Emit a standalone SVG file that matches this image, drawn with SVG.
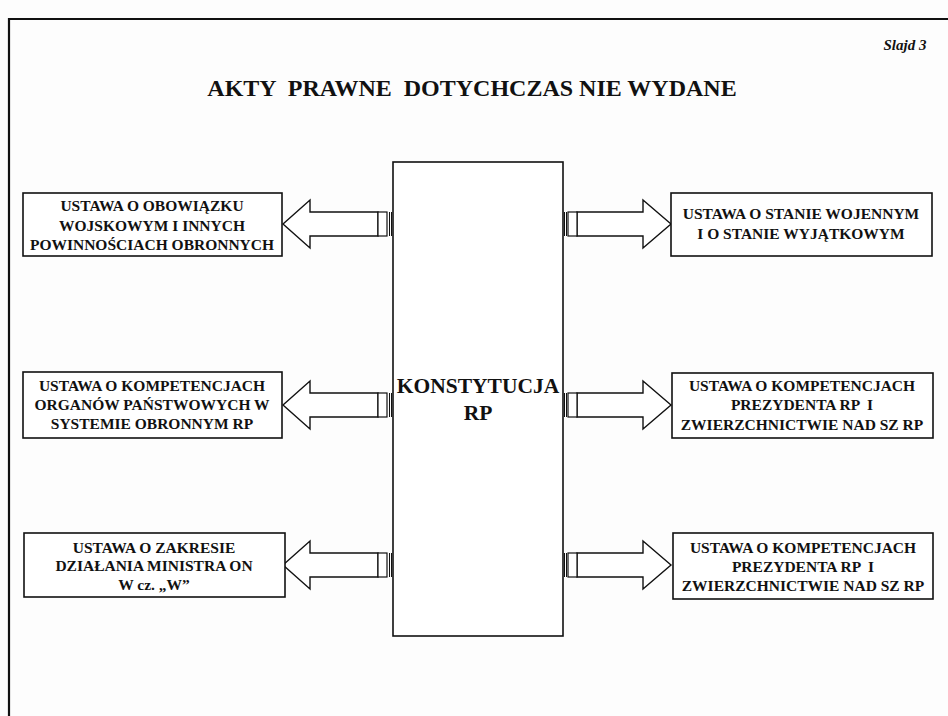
<svg xmlns="http://www.w3.org/2000/svg" width="948" height="716" viewBox="0 0 948 716">
<style>
.box{fill:#fff;stroke:#111;stroke-width:1.6}
.t{font-family:"Liberation Serif","Times New Roman",serif;font-weight:bold;fill:#111;text-anchor:middle}
.lbl{font-size:15.5px}
.arr{fill:#fff;stroke:#111;stroke-width:1.4;stroke-linejoin:miter}
.stripe{fill:#fff;stroke:#111;stroke-width:1.2}
</style>
<rect x="0" y="0" width="948" height="716" fill="#fdfdfd"/>
<g id="frame">
<path d="M9,716 V19 H948" fill="none" stroke="#111" stroke-width="2.2"/>
</g>
<text x="905" y="50" class="t" style="font-size:15px;font-style:italic">Slajd 3</text>
<text x="472" y="96" class="t" style="font-size:24px;white-space:pre">AKTY  PRAWNE  DOTYCHCZAS NIE WYDANE</text>

<defs>
<g id="arrowL">
<polygon class="arr" points="283,0 310,-24 310,-12 378,-12 378,12 310,12 310,24"/>
<rect class="stripe" x="378" y="-12" width="9" height="24"/>
<line x1="389.5" y1="-12" x2="389.5" y2="12" stroke="#111" stroke-width="1"/>
<line x1="391.5" y1="-12" x2="391.5" y2="12" stroke="#111" stroke-width="1"/>
</g>
<g id="arrowR">
<polygon class="arr" points="671,0 643,-24 643,-12 577,-12 577,12 643,12 643,24"/>
<rect class="stripe" x="568" y="-12" width="9" height="24"/>
<line x1="564.5" y1="-12" x2="564.5" y2="12" stroke="#111" stroke-width="1"/>
<line x1="566.5" y1="-12" x2="566.5" y2="12" stroke="#111" stroke-width="1"/>
</g>
</defs>

<g id="connectors">
<use href="#arrowL" y="224"/>
<use href="#arrowL" y="405"/>
<use href="#arrowL" y="565"/>
<use href="#arrowR" y="224"/>
<use href="#arrowR" y="405"/>
<use href="#arrowR" y="565"/>
</g>

<g id="konstytucja">
<rect class="box" x="393" y="162" width="170" height="474"/>
<text x="478" y="393" class="t" style="font-size:21.5px">KONSTYTUCJA</text>
<text x="478" y="420" class="t" style="font-size:21.5px">RP</text>
</g>

<g id="left1">
<rect class="box" x="23" y="193" width="259" height="63"/>
<text class="t lbl" x="152" y="211">USTAWA O OBOWIĄZKU</text>
<text class="t lbl" x="152" y="231">WOJSKOWYM I INNYCH</text>
<text class="t lbl" x="152" y="250">POWINNOŚCIACH OBRONNYCH</text>
</g>

<g id="left2">
<rect class="box" x="23" y="372" width="259" height="66"/>
<text class="t lbl" x="152" y="391">USTAWA O KOMPETENCJACH</text>
<text class="t lbl" x="152" y="410">ORGANÓW PAŃSTWOWYCH W</text>
<text class="t lbl" x="152" y="429">SYSTEMIE OBRONNYM RP</text>
</g>

<g id="left3">
<rect class="box" x="24" y="533" width="261" height="64"/>
<text class="t lbl" x="154" y="553">USTAWA O ZAKRESIE</text>
<text class="t lbl" x="154" y="571">DZIAŁANIA MINISTRA ON</text>
<text class="t lbl" x="154" y="590">W cz. „W”</text>
</g>

<g id="right1">
<rect class="box" x="671" y="193" width="261" height="63"/>
<text class="t lbl" x="801" y="219">USTAWA O STANIE WOJENNYM</text>
<text class="t lbl" x="801" y="239">I O STANIE WYJĄTKOWYM</text>
</g>

<g id="right2">
<rect class="box" x="672" y="373" width="261" height="65"/>
<text class="t lbl" x="802" y="391">USTAWA O KOMPETENCJACH</text>
<text class="t lbl" x="802" y="410" style="white-space:pre">PREZYDENTA RP  I</text>
<text class="t lbl" x="802" y="430">ZWIERZCHNICTWIE NAD SZ RP</text>
</g>

<g id="right3">
<rect class="box" x="673" y="533" width="260" height="66"/>
<text class="t lbl" x="803" y="553">USTAWA O KOMPETENCJACH</text>
<text class="t lbl" x="803" y="572" style="white-space:pre">PREZYDENTA RP  I</text>
<text class="t lbl" x="803" y="591">ZWIERZCHNICTWIE NAD SZ RP</text>
</g>
</svg>
